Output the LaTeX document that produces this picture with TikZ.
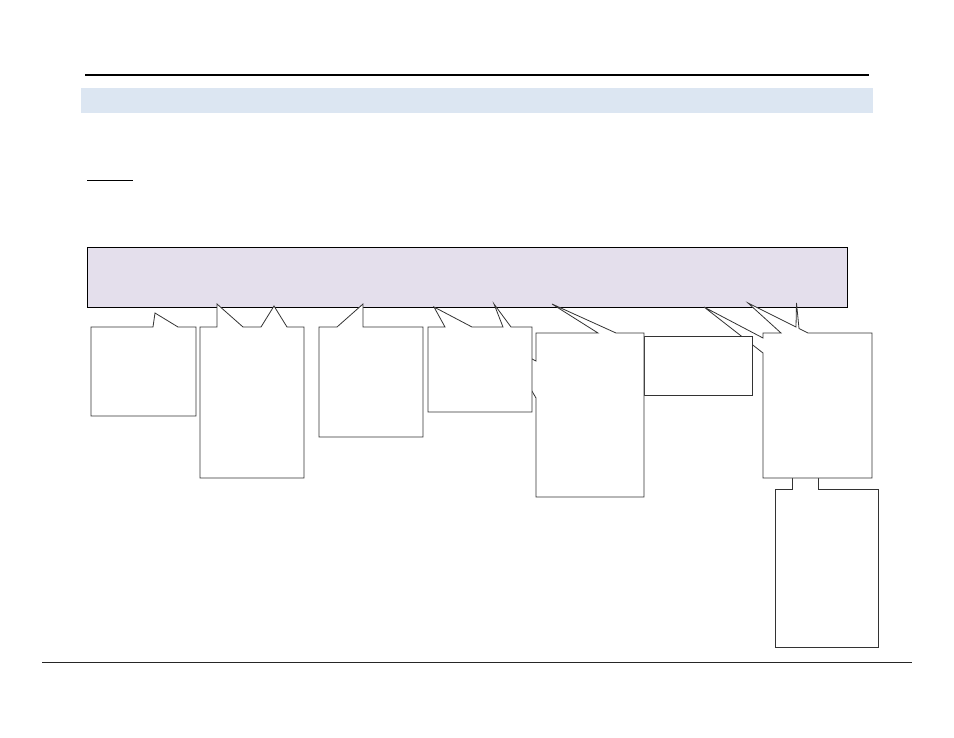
\documentclass[tikz,border=0pt]{standalone}
\begin{document}
\begin{tikzpicture}[x=1pt,y=-1pt,
  callout/.style={draw=black!80,line width=0.8pt,fill=white,line join=miter},
  banner/.style={draw=black,line width=0.8pt,fill=lavender}]
\definecolor{lavender}{HTML}{E4DFEC}
\definecolor{bandblue}{HTML}{DCE6F2}
\useasboundingbox (0,0) rectangle (954,737);
% header rule and band
\draw[line width=1.8pt] (85,75) -- (869,75);
\fill[bandblue] (81,88) rectangle (873,113);
\draw[line width=1pt] (87,180) -- (133,180);
% bottom rule
\draw[line width=0.6pt,black!85] (42,662) -- (912,662);
% banner
\draw[banner] (87,247) rectangle (847,307);
% H (behind G)
\draw[callout] (775,489) -- (792,489) -- (792,465) -- (818,465) -- (818,489) -- (878,489) -- (878,647) -- (775,647) -- cycle;
% G
\draw[callout] (763,333) -- (781,333) -- (748,303) -- (796,327) -- (796.5,303) -- (799,328.5) -- (808,333) -- (872,333) -- (872,478) -- (763,478) -- (763,353) -- (704,307) -- (763,338) -- cycle;
% F
\draw[callout] (644,336) rectangle (752,395);
% E
\draw[callout] (536,333) -- (598,333) -- (552,304) -- (616,333) -- (644,333) -- (644,497) -- (536,497) -- (536,398) -- (505,345) -- (536,361) -- cycle;
% D
\draw[callout] (428,327) -- (445,327) -- (434,307) -- (472,327) -- (503,327) -- (494,304) -- (511,327) -- (532,327) -- (532,412) -- (428,412) -- cycle;
% C
\draw[callout] (319,327) -- (337,327) -- (363,304) -- (363,327) -- (423,327) -- (423,437) -- (319,437) -- cycle;
% B
\draw[callout] (200,327) -- (217,327) -- (217,304) -- (243,327) -- (261,327) -- (274,306) -- (287,327) -- (304,327) -- (304,478) -- (200,478) -- cycle;
% A
\draw[callout] (91,327) -- (153,327) -- (155,313) -- (178,327) -- (196,327) -- (196,416) -- (91,416) -- cycle;
\end{tikzpicture}
\end{document}
